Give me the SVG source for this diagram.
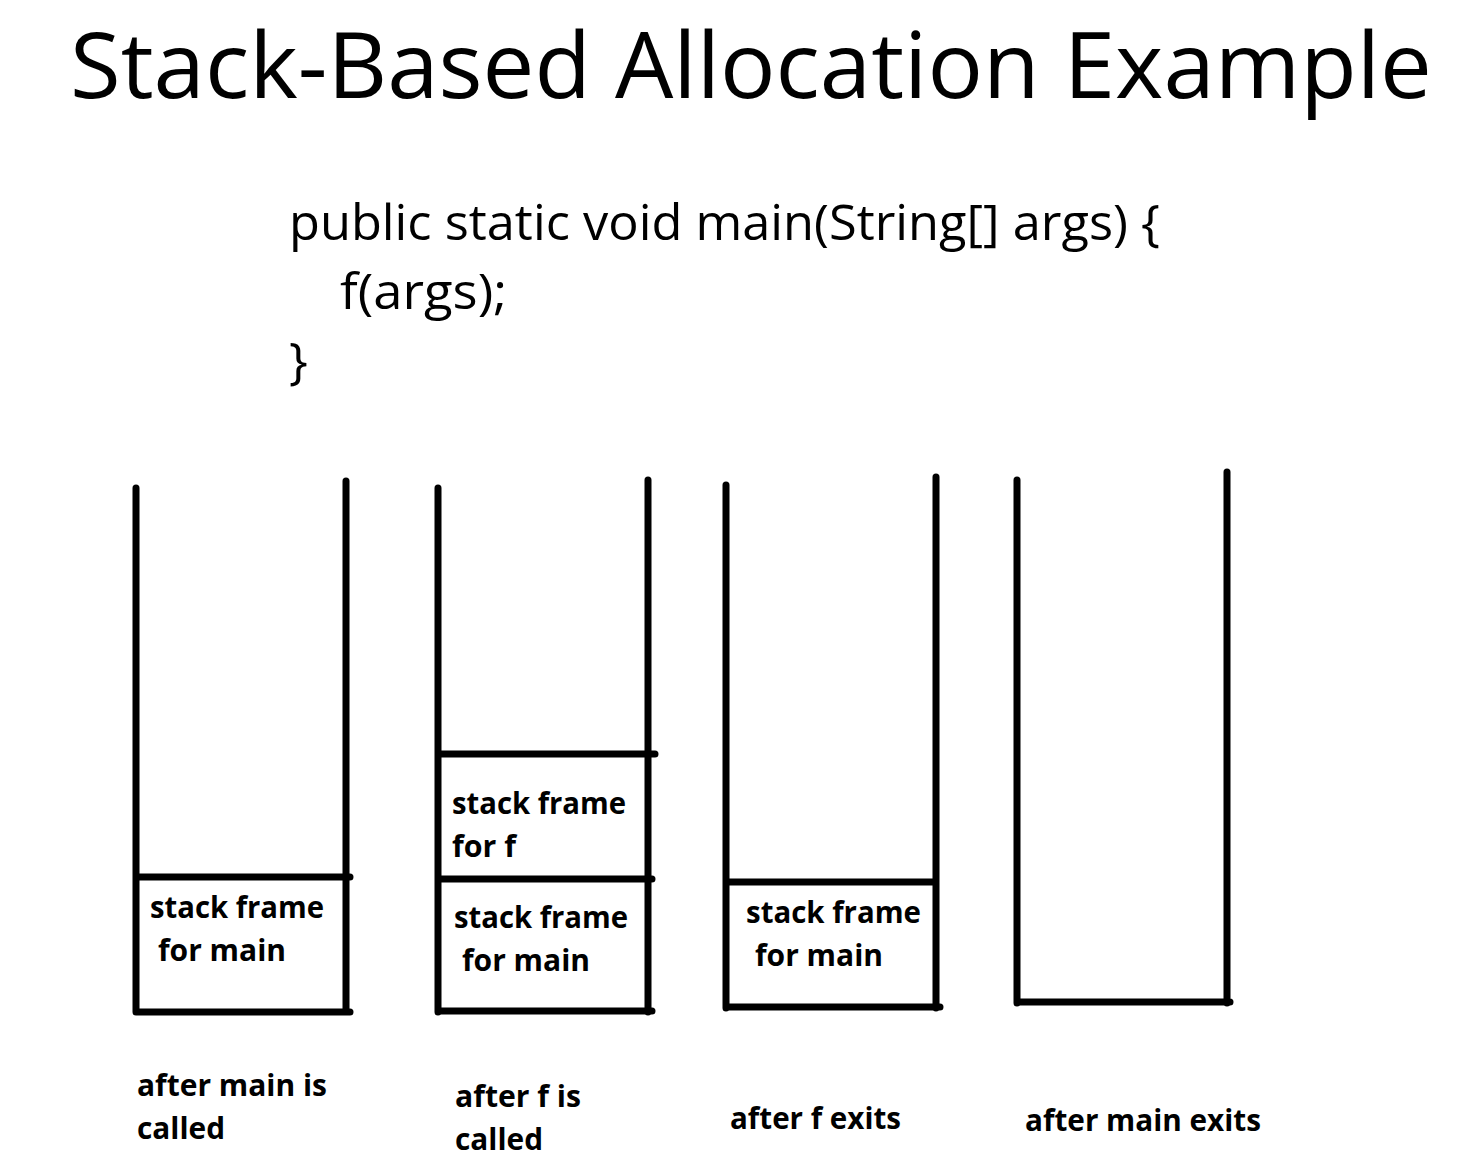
<svg xmlns="http://www.w3.org/2000/svg" width="1484" height="1170" viewBox="0 0 1484 1170">
<style>
.t{font-family:"Open Sans","Liberation Sans",sans-serif;fill:#000}
.title{font-size:92px}
.code{font-size:50px}
.lbl{font-size:30px;font-weight:bold}
.ln{stroke:#000;stroke-width:7;stroke-linecap:round;fill:none}
</style>
<rect width="1484" height="1170" fill="#fff"/>
<text class="t title" x="70" y="98" textLength="1362" lengthAdjust="spacingAndGlyphs">Stack-Based Allocation Example</text>
<g id="code">
<text class="t code" x="289" y="240" textLength="871" lengthAdjust="spacingAndGlyphs">public static void main(String[] args) {</text>
<text class="t code" x="340" y="309" textLength="167" lengthAdjust="spacingAndGlyphs">f(args);</text>
<text class="t code" x="289" y="378">}</text>
</g>
<g id="connectors">
</g>
<g id="stack1">
<path class="ln" d="M136 488V1012M346 481V1012M136 877H350M136 1012H350"/>
<text class="t lbl" x="150" y="918" textLength="174" lengthAdjust="spacingAndGlyphs">stack frame</text>
<text class="t lbl" x="158" y="961" textLength="128" lengthAdjust="spacingAndGlyphs">for main</text>
<text class="t lbl" x="137" y="1096" textLength="190" lengthAdjust="spacingAndGlyphs">after main is</text>
<text class="t lbl" x="137" y="1139" textLength="88" lengthAdjust="spacingAndGlyphs">called</text>
</g>
<g id="stack2">
<path class="ln" d="M438 488V1012M648 480V1012M438 754H655M438 879H652M438 1011H652"/>
<text class="t lbl" x="452" y="814" textLength="174" lengthAdjust="spacingAndGlyphs">stack frame</text>
<text class="t lbl" x="452" y="857" textLength="64" lengthAdjust="spacingAndGlyphs">for f</text>
<text class="t lbl" x="454" y="928" textLength="174" lengthAdjust="spacingAndGlyphs">stack frame</text>
<text class="t lbl" x="462" y="971" textLength="128" lengthAdjust="spacingAndGlyphs">for main</text>
<text class="t lbl" x="455" y="1107" textLength="126" lengthAdjust="spacingAndGlyphs">after f is</text>
<text class="t lbl" x="455" y="1150" textLength="88" lengthAdjust="spacingAndGlyphs">called</text>
</g>
<g id="stack3">
<path class="ln" d="M726 485V1008M936 477V1008M726 882H936M726 1007H940"/>
<text class="t lbl" x="746" y="923" textLength="175" lengthAdjust="spacingAndGlyphs">stack frame</text>
<text class="t lbl" x="755" y="966" textLength="128" lengthAdjust="spacingAndGlyphs">for main</text>
<text class="t lbl" x="730" y="1129" textLength="171" lengthAdjust="spacingAndGlyphs">after f exits</text>
</g>
<g id="stack4">
<path class="ln" d="M1017 480V1003M1227 472V1003M1017 1002H1230"/>
<text class="t lbl" x="1025" y="1131" textLength="236" lengthAdjust="spacingAndGlyphs">after main exits</text>
</g>
</svg>
